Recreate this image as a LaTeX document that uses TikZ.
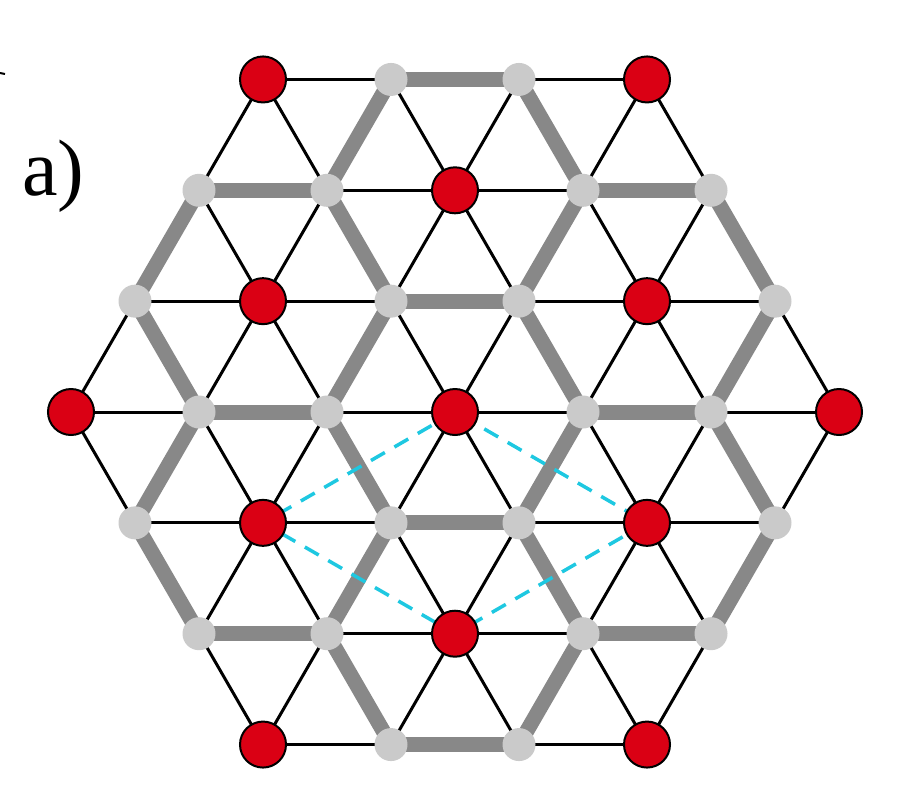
\documentclass[tikz,border=0pt]{standalone}
\usepackage{fontspec}
\setmainfont{Liberation Serif}
\definecolor{dotred}{RGB}{218,0,20}
\definecolor{dotgray}{RGB}{202,202,202}
\definecolor{bondgray}{RGB}{136,136,136}
\definecolor{cellcyan}{RGB}{30,200,225}
\pgfdeclarelayer{lbg}
\pgfdeclarelayer{lblack}
\pgfdeclarelayer{lgray}
\pgfdeclarelayer{lcell}
\pgfsetlayers{lbg,lblack,lgray,lcell,main}
\begin{document}
\begin{tikzpicture}[x=1pt,y=-1pt,
  reddot/.style={circle,fill=dotred,draw=black,line width=2pt,minimum size=46pt,inner sep=0pt},
  graydot/.style={circle,fill=dotgray,minimum size=33pt,inner sep=0pt},
  thinbond/.style={black,line width=3pt},
  thickbond/.style={bondgray,line width=15pt},
  cellline/.style={cellcyan,line width=3.5pt,dash pattern=on 16pt off 11pt},
  paneltext/.style={font=\fontsize{80}{80}\selectfont,inner sep=0pt}]
\useasboundingbox (0,0) rectangle (897,788);
\begin{pgfonlayer}{lbg}
\fill[white] (0,0) rectangle (897,788);
\end{pgfonlayer}
% sites
\foreach \i in {-3,...,3}{
  \foreach \j in {-3,...,3}{
    \pgfmathtruncatemacro\ok{abs(\i+\j)<=3}
    \ifnum\ok=1
      \pgfmathtruncatemacro\r{mod(\i-\j+30,3)}
      \pgfmathtruncatemacro\a{\i+3}
      \pgfmathtruncatemacro\b{\j+3}
      \pgfmathsetmacro\px{455+128*(\i+0.5*\j)}
      \pgfmathsetmacro\py{412-110.85*\j}
      \ifnum\r=0
        \node[reddot] (n\a\b) at (\px,\py) {};
      \else
        \node[graydot] (n\a\b) at (\px,\py) {};
      \fi
    \fi
  }
}
% bonds
\foreach \i in {-3,...,3}{
  \foreach \j in {-3,...,3}{
    \pgfmathtruncatemacro\ok{abs(\i+\j)<=3}
    \ifnum\ok=1
      \pgfmathtruncatemacro\r{mod(\i-\j+30,3)}
      \pgfmathtruncatemacro\a{\i+3}
      \pgfmathtruncatemacro\b{\j+3}
      \foreach \di/\dj in {1/0,0/1,-1/1}{
        \pgfmathtruncatemacro\ii{\i+\di}
        \pgfmathtruncatemacro\jj{\j+\dj}
        \pgfmathtruncatemacro\okk{(abs(\ii)<=3)&&(abs(\jj)<=3)&&(abs(\ii+\jj)<=3)}
        \ifnum\okk=1
          \pgfmathtruncatemacro\rr{mod(\ii-\jj+30,3)}
          \pgfmathtruncatemacro\aa{\ii+3}
          \pgfmathtruncatemacro\bb{\jj+3}
          \pgfmathtruncatemacro\gg{(\r>0)&&(\rr>0)}
          \ifnum\gg=1
            \begin{pgfonlayer}{lgray}
              \draw[thickbond] (n\a\b.center) -- (n\aa\bb.center);
            \end{pgfonlayer}
          \else
            \begin{pgfonlayer}{lblack}
              \draw[thinbond] (n\a\b.center) -- (n\aa\bb.center);
            \end{pgfonlayer}
          \fi
        \fi
      }
    \fi
  }
}
% unit cell
\begin{pgfonlayer}{lcell}
  \draw[cellline] (n33.center) -- (n22.center) -- (n41.center) -- (n52.center) -- cycle;
\end{pgfonlayer}
% label
\node[paneltext,anchor=base west] (lab) at (22,195) {a)};
\coordinate (tk1) at (0,73);
\coordinate (tk2) at (5,74);
\draw[black,line width=2pt] (tk1) -- (tk2);
\end{tikzpicture}
\end{document}
